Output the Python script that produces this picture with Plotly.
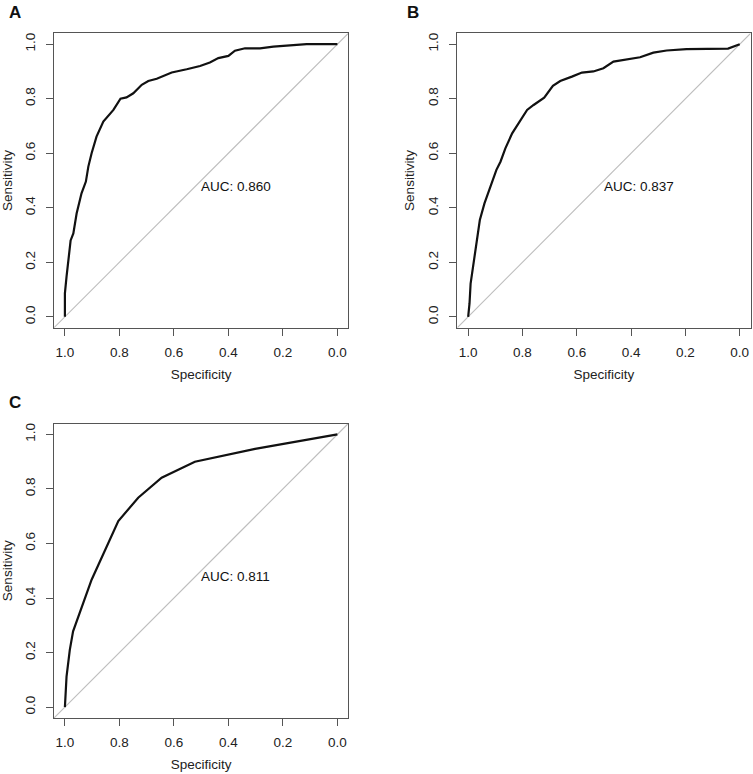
import plotly.graph_objects as go

# ---- data ----
spec_A = [1.0, 1.0, 0.994, 0.987, 0.979, 0.969, 0.957, 0.939, 0.923, 0.914, 0.902, 0.884,
          0.859, 0.822, 0.796, 0.774, 0.749, 0.718, 0.694, 0.663, 0.608, 0.553, 0.504,
          0.468, 0.437, 0.400, 0.376, 0.339, 0.284, 0.235, 0.186, 0.113, 0.0]
sens_A = [0.0, 0.086, 0.147, 0.208, 0.280, 0.306, 0.379, 0.453, 0.496, 0.551, 0.600, 0.661,
          0.716, 0.759, 0.800, 0.805, 0.820, 0.851, 0.865, 0.873, 0.896, 0.908, 0.920,
          0.933, 0.949, 0.957, 0.976, 0.985, 0.985, 0.991, 0.994, 1.0, 1.0]

spec_B = [1.0, 0.995, 0.991, 0.979, 0.967, 0.957, 0.940, 0.918, 0.896, 0.881, 0.863, 0.838,
          0.808, 0.783, 0.759, 0.720, 0.688, 0.661, 0.618, 0.581, 0.539, 0.502, 0.465,
          0.404, 0.367, 0.318, 0.269, 0.196, 0.110, 0.043, 0.0]
sens_B = [0.0, 0.049, 0.122, 0.208, 0.294, 0.355, 0.416, 0.477, 0.539, 0.569, 0.618, 0.673,
          0.722, 0.759, 0.777, 0.804, 0.847, 0.865, 0.881, 0.896, 0.900, 0.912, 0.936,
          0.945, 0.952, 0.969, 0.977, 0.982, 0.984, 0.984, 1.0]

spec_C = [1.0, 0.996, 0.994, 0.982, 0.970, 0.902, 0.804, 0.731, 0.645, 0.523, 0.302, 0.0]
sens_C = [0.0, 0.064, 0.112, 0.210, 0.278, 0.467, 0.682, 0.768, 0.841, 0.900, 0.947, 1.0]

auc_labels = ["AUC: 0.860", "AUC: 0.837", "AUC: 0.811"]
panel_letters = ["A", "B", "C"]
tick_vals = [0.0, 0.2, 0.4, 0.6, 0.8, 1.0]
tick_text = ["0.0", "0.2", "0.4", "0.6", "0.8", "1.0"]

# ---- layout geometry ----
W, H = 753, 774
PAD = 0.04
FONT = "Liberation Sans, Arial, sans-serif"

def xd(a, b):
    return [a / W, b / W]

def yd(top, bottom):
    return [1 - bottom / H, 1 - top / H]

panels = [
    dict(x=xd(54, 348.3), y=yd(33.3, 327.7), letter_xy=(7, 13)),
    dict(x=xd(457.3, 750.6), y=yd(33.3, 327.7), letter_xy=(405, 13)),
    dict(x=xd(54, 348.3), y=yd(423.5, 718.0), letter_xy=(7, 403)),
]
curves = [(spec_A, sens_A), (spec_B, sens_B), (spec_C, sens_C)]

fig = go.Figure()
annotations = []
for i, (p, (sx, sy)) in enumerate(zip(panels, curves)):
    n = "" if i == 0 else str(i + 1)
    xa, ya = "x" + n, "y" + n
    lo, hi = -PAD, 1 + PAD
    # diagonal reference line across the whole box
    fig.add_trace(go.Scatter(x=[hi, lo], y=[lo, hi], mode="lines", xaxis=xa, yaxis=ya,
                             line=dict(color="#bdbdbd", width=1.1), hoverinfo="skip",
                             showlegend=False))
    fig.add_trace(go.Scatter(x=sx, y=sy, mode="lines", xaxis=xa, yaxis=ya,
                             line=dict(color="#111111", width=2.2), showlegend=False))
    common = dict(showgrid=False, zeroline=False, showline=True, mirror=True,
                  linecolor="#555555", linewidth=1, ticks="outside", ticklen=7,
                  tickcolor="#555555", tickwidth=1, tickvals=tick_vals, ticktext=tick_text,
                  tickfont=dict(family=FONT, size=13.5, color="#222222"))
    fig.layout["xaxis" + n] = dict(common, domain=p["x"], range=[hi, lo],
                                   anchor=ya, ticklabelstandoff=5,
                                   title=dict(text="Specificity", standoff=10,
                                              font=dict(family=FONT, size=13.5, color="#222222")))
    fig.layout["yaxis" + n] = dict(common, domain=p["y"], range=[lo, hi],
                                   anchor=xa, tickangle=-90, ticklabelstandoff=6,
                                   title=dict(text="Sensitivity", standoff=8,
                                              font=dict(family=FONT, size=13.5, color="#222222")))
    annotations.append(dict(x=0.5, y=0.5, xref=xa, yref=ya, text=auc_labels[i],
                            showarrow=False, xanchor="left", yanchor="top",
                            xshift=-2, yshift=4,
                            font=dict(family=FONT, size=13.5, color="#111111")))
    lx, ly = p["letter_xy"]
    annotations.append(dict(x=lx / W, y=1 - ly / H, xref="paper", yref="paper",
                            text="<b>" + panel_letters[i] + "</b>", showarrow=False,
                            xanchor="left", yanchor="middle",
                            font=dict(family=FONT, size=17, color="#111111")))

fig.update_layout(width=W, height=H, margin=dict(l=0, r=0, t=0, b=0),
                  paper_bgcolor="white", plot_bgcolor="white",
                  annotations=annotations)
fig.write_html("out.html", config={"displayModeBar": False},
               post_script="document.body.style.margin='0px';document.body.style.overflow='hidden';")
